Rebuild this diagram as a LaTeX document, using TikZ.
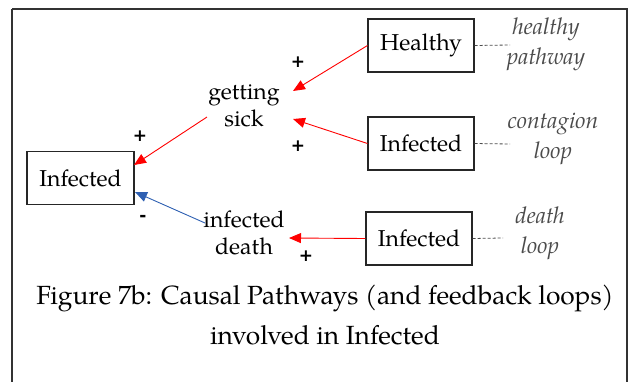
\documentclass[tikz,border=0pt]{standalone}
\usepackage{fontspec}
\setmainfont{TeX Gyre Pagella}
\newfontfamily\signfont{DejaVu Sans}
\usetikzlibrary{arrows.meta}
\definecolor{arrred}{RGB}{255,0,0}
\definecolor{arrblue}{RGB}{46,96,178}
\definecolor{notegray}{RGB}{75,75,75}
\tikzset{
  varbox/.style={draw=black!85, line width=1.1pt, minimum width=106pt, minimum height=53pt, inner sep=0pt, font=\fontsize{23}{27}\selectfont},
  varlabel/.style={align=center, inner sep=0pt, font=\fontsize{23}{27}\selectfont},
  notetext/.style={align=center, inner sep=0pt, text=notegray, font=\itshape\fontsize{23}{30}\selectfont},
  posarrow/.style={draw=arrred, line width=0.9pt, -{Triangle[length=12pt,width=10pt]}},
  negarrow/.style={draw=arrblue, line width=0.9pt, -{Triangle[length=12pt,width=10pt]}},
  notelink/.style={draw=notegray, line width=0.8pt, dash pattern=on 3pt off 2pt},
  signlabel/.style={inner sep=0pt, font=\signfont\bfseries\fontsize{17}{17}\selectfont},
  caption/.style={inner sep=0pt, font=\fontsize{26.3}{30}\selectfont}
}
\begin{document}
\begin{tikzpicture}[x=1pt,y=-1pt]
\useasboundingbox (0,0) rectangle (629,381);
\draw[black!80, line width=1.6pt] (12,9) -- (627,9) -- (627,400);
\draw[black!80, line width=1.6pt] (12,9) -- (12,400);

\node[varbox] (H) at (421,45.5) {Healthy};
\node[varbox] (C) at (421,143.5) {Infected};
\node[varbox] (D) at (419,238.5) {Infected};
\node[varbox, minimum width=107pt] (L) at (80.5,178) {Infected};

\node[varlabel] (gs) at (244,106) {getting\\sick};
\node[varlabel] (id) at (244,233) {infected\\death};

\node[notetext] (nh) at (546,44) {healthy\\pathway};
\node[notetext] (nc) at (553,139) {contagion\\loop};
\node[notetext] (nd) at (540,233) {death\\loop};

\coordinate (tH) at (293,91);
\coordinate (tC) at (293,119);
\coordinate (sG) at (207,117);
\coordinate (tL) at (134,165);
\coordinate (sI) at (205,223);
\coordinate (tB) at (135,192);
\coordinate (tD) at (289,238);
\coordinate (eH) at (510,45);
\coordinate (eC) at (510,144);
\coordinate (eD) at (503,238);

\draw[posarrow] (H.west) -- (tH);
\draw[posarrow] (C.west) -- (tC);
\draw[posarrow] (sG) -- (tL);
\draw[posarrow] (D.west) -- (tD);
\draw[negarrow] (sI) -- (tB);

\draw[notelink] (H.east) -- (eH);
\draw[notelink] (C.east) -- (eC);
\draw[notelink] (D.east) -- (eD);

\node[signlabel] (s1) at (298,62) {+};
\node[signlabel] (s2) at (298,146) {+};
\node[signlabel] (s3) at (140,136) {+};
\node[signlabel] (s4) at (143,218) {-};
\node[signlabel] (s5) at (306,256) {+};

\node[caption] (cap1) at (325,298) {Figure 7b: Causal Pathways (and feedback loops)};
\node[caption] (cap2) at (325,335) {involved in Infected};
\end{tikzpicture}
\end{document}
